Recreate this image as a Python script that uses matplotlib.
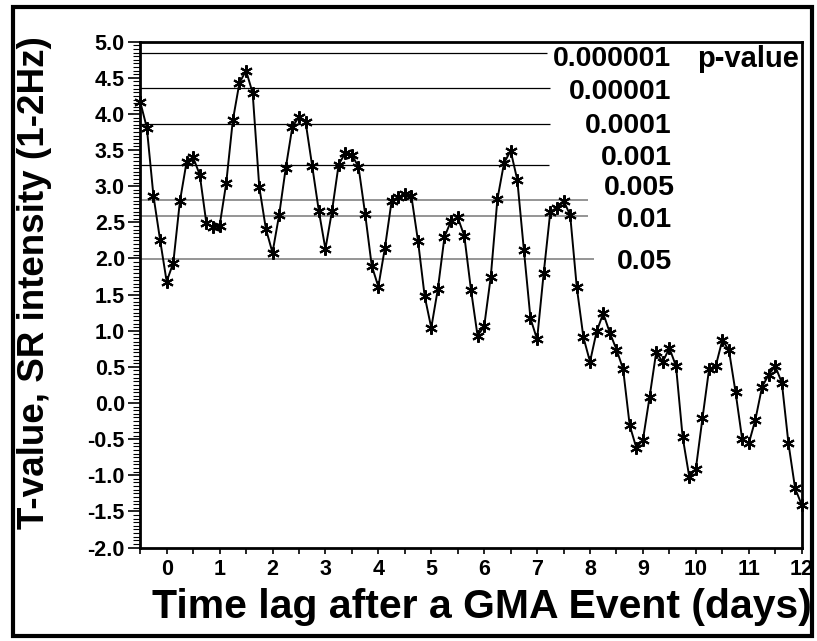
import matplotlib
matplotlib.use('Agg')
import matplotlib.pyplot as plt
import numpy as np
from matplotlib.patches import Rectangle
from matplotlib.ticker import FixedLocator, MultipleLocator

plt.rcParams['font.family'] = ['Liberation Sans', 'DejaVu Sans']
plt.rcParams['font.weight'] = 'bold'
plt.rcParams['axes.unicode_minus'] = False

# ---------------- data ----------------
lag_start = -0.5          # days
lag_step = 0.125          # days (3 h)
t_values = [
    4.17, 3.81, 2.87, 2.26, 1.68, 1.94, 2.79, 3.33, 3.40, 3.16,
    2.49, 2.43, 2.45, 3.04, 3.91, 4.43, 4.60, 4.29, 2.99, 2.41,
    2.08, 2.60, 3.25, 3.82, 3.96, 3.89, 3.28, 2.66, 2.13, 2.66,
    3.30, 3.46, 3.43, 3.27, 2.62, 1.90, 1.61, 2.15, 2.79, 2.85,
    2.89, 2.86, 2.24, 1.48, 1.04, 1.58, 2.30, 2.52, 2.57, 2.31,
    1.57, 0.93, 1.06, 1.75, 2.82, 3.32, 3.49, 3.09, 2.12, 1.17,
    0.88, 1.80, 2.65, 2.70, 2.80, 2.60, 1.60, 0.91, 0.57, 0.99,
    1.24, 0.97, 0.74, 0.47, -0.31, -0.62, -0.51, 0.08, 0.70, 0.57,
    0.76, 0.51, -0.47, -1.02, -0.91, -0.21, 0.47, 0.51, 0.87, 0.73,
    0.15, -0.50, -0.56, -0.23, 0.22, 0.39, 0.51, 0.28, -0.56, -1.18,
    -1.41,
]
p_labels = ['0.000001', '0.00001', '0.0001', '0.001', '0.005', '0.01', '0.05']
t_thresholds = [4.85, 4.36, 3.86, 3.30, 2.81, 2.59, 1.99]
x_tick_values = [0, 1, 2, 3, 4, 5, 6, 7, 8, 9, 10, 11, 12]
y_tick_values = [-2.0, -1.5, -1.0, -0.5, 0.0, 0.5, 1.0, 1.5, 2.0, 2.5, 3.0, 3.5, 4.0, 4.5, 5.0]
x_label = 'Time lag after a GMA Event (days)'
y_label = 'T-value, SR intensity (1-2Hz)'
legend_title = 'p-value'

# ---------------- layout / style ----------------
line_ends = [7.19, 7.25, 7.25, 7.22, 7.97, 7.97, 8.08]
line_colors = ['black', 'black', 'black', 'black', '#8c8c8c', '#8c8c8c', '#8c8c8c']
line_widths = [0.9, 0.9, 0.9, 0.9, 1.3, 1.3, 1.3]
W, H, DPI = 817, 641, 100
ax_l, ax_r, ax_t, ax_b = 140.2, 801.7, 41.7, 547.5
# label anchor positions in pixels (right edge x, centre y)
label_px_x = [671, 671, 671, 672, 675, 672, 672]
label_px_y = [59, 92, 126, 158, 188, 220, 262]

fig = plt.figure(figsize=(W / DPI, H / DPI), dpi=DPI)
ax = fig.add_axes([ax_l / W, 1 - ax_b / H, (ax_r - ax_l) / W, (ax_b - ax_t) / H])
ax.set_xlim(-0.5, 12)
ax.set_ylim(-2.0, 5.0)

def px2data(px, py):
    x0, x1 = ax.get_xlim()
    y0, y1 = ax.get_ylim()
    return (x0 + (px - ax_l) / (ax_r - ax_l) * (x1 - x0),
            y1 - (py - ax_t) / (ax_b - ax_t) * (y1 - y0))

days = lag_start + lag_step * np.arange(len(t_values))

for t, xe, c, lw in zip(t_thresholds, line_ends, line_colors, line_widths):
    ax.plot([lag_start, xe], [t, t], color=c, lw=lw, zorder=1, solid_capstyle='butt')

ax.plot(days, t_values, color='black', lw=1.4, marker=(6, 2, 0), markersize=9,
        markeredgewidth=1.5, markeredgecolor='black', zorder=3, clip_on=False)

for lab, px, py in zip(p_labels, label_px_x, label_px_y):
    xx, yy = px2data(px, py)
    ax.text(xx, yy, lab, ha='right', va='center', fontsize=20.5, fontweight='bold',
            clip_on=False)
xx, yy = px2data(697, 59)
ax.text(xx, yy, legend_title, ha='left', va='center', fontsize=21,
        fontweight='bold')

ax.xaxis.set_major_locator(FixedLocator(x_tick_values))
ax.xaxis.set_minor_locator(MultipleLocator(0.5))
ax.set_xticklabels([str(v) for v in x_tick_values])
ax.yaxis.set_major_locator(FixedLocator(y_tick_values))
ax.yaxis.set_minor_locator(MultipleLocator(0.05))
ax.set_yticklabels(['%.1f' % v for v in y_tick_values])

ax.tick_params(axis='x', which='both', direction='out', length=4, width=1.2,
               labelsize=15.5, pad=4)
ax.tick_params(axis='y', which='major', direction='out', length=9, width=1.2,
               labelsize=15.5, pad=2)
ax.tick_params(axis='y', which='minor', direction='out', length=5, width=0.8)
for lab in ax.get_xticklabels() + ax.get_yticklabels():
    lab.set_fontweight('bold')

for sp in ax.spines.values():
    sp.set_linewidth(2.0)

fig.text(482 / W, 1 - 607 / H, x_label, ha='center', va='center', fontsize=29.5,
         fontweight='bold')
fig.text(35 / W, 1 - 283 / H, y_label, ha='center', va='center', fontsize=26.5,
         fontweight='bold', rotation=90)

fig.patches.append(Rectangle((13 / W, 1 - 636 / H), (812 - 13) / W, (636 - 7) / H,
                             transform=fig.transFigure, fill=False,
                             edgecolor='black', lw=3))

fig.savefig('out.png', dpi=DPI)
